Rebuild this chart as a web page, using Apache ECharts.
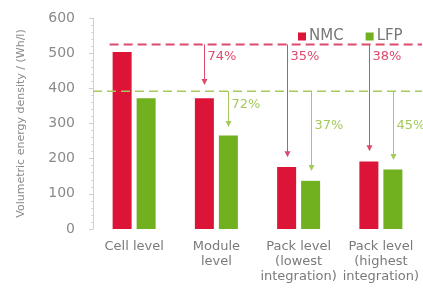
<!DOCTYPE html>
<html><head><meta charset="utf-8">
<script src="https://cdn.jsdelivr.net/npm/echarts@6/dist/echarts.min.js"></script>
<style>html,body{margin:0;padding:0;background:#fff}#c{width:423px;height:288px}</style>
</head><body><div id="c"></div>
<script>
const categories = ['Cell level', 'Module\nlevel', 'Pack level\n(lowest\nintegration)', 'Pack level\n(highest\nintegration)'];
const nmcValues = [503, 372, 176, 192];
const lfpValues = [372, 266, 137, 169];
const yTicks = [0, 100, 200, 300, 400, 500, 600];
const nmcRef = 525;
const lfpRef = 392;
// arrows: [categoryIndex, fromValue, toValue, labelValue]
const nmcArrows = [[1, 525, 412, 490], [2, 525, 207, 490], [3, 525, 224, 490]];
const nmcArrowLabels = ['74%', '35%', '38%'];
const lfpArrows = [[1, 392, 293, 355], [2, 392, 168, 293], [3, 392, 199, 293]];
const lfpArrowLabels = ['72%', '37%', '45%'];

const RED = '#dc1438', GREEN = '#71b01f';
const RED_L = '#dc4a6c', GREEN_L = '#a5c95a';
const BAR_W = 19, GAP = 5;
const FONT = 'DejaVu Sans';

function arrowRender(labels, color, side) {
  return function (params, api) {
    const cat = api.value(0), from = api.value(1), to = api.value(2), lv = api.value(3);
    const off = side * (BAR_W + GAP) / 2;
    const p1 = api.coord([cat, from]);
    const p2 = api.coord([cat, to]);
    const pl = api.coord([cat, lv]);
    const x = Math.round(p1[0] + off) + 0.5;
    return {
      type: 'group', children: [
        { type: 'line', shape: { x1: x, y1: p1[1], x2: x, y2: p2[1] - 3 }, style: { stroke: color, lineWidth: 1 } },
        { type: 'polygon', shape: { points: [[x - 3, p2[1] - 5], [x + 3, p2[1] - 5], [x, p2[1] + 1]] }, style: { fill: color } },
        { type: 'text', style: { text: labels[params.dataIndex], x: x + 3, y: pl[1], verticalAlign: 'middle', fill: color, fontSize: 13, fontFamily: FONT } }
      ]
    };
  };
}

const chart = echarts.init(document.getElementById('c'), null, { renderer: 'canvas' });
chart.setOption({
  animation: false,
  backgroundColor: '#fff',
  grid: { left: 93, right: 1, top: 18, bottom: 59 },
  legend: {
    data: ['NMC', 'LFP'], left: 293, top: 24, itemWidth: 8, itemHeight: 8, itemGap: 22, icon: 'rect',
    textStyle: { fontSize: 15, color: '#777', fontFamily: FONT, padding: [0, 0, 0, -2] }
  },
  xAxis: {
    type: 'category', data: categories,
    axisLine: { show: false }, axisTick: { show: false },
    axisLabel: { color: '#7a7a7a', fontSize: 13, fontFamily: FONT, lineHeight: 15, margin: 10, interval: 0 }
  },
  yAxis: {
    type: 'value', min: yTicks[0], max: yTicks[yTicks.length - 1], interval: 100,
    name: 'Volumetric energy density / (Wh/l)', nameLocation: 'middle', nameRotate: 90, nameGap: 66,
    nameTextStyle: { color: '#8a8a8a', fontSize: 11, fontFamily: FONT },
    axisLine: { show: true, lineStyle: { color: '#cfcfcf' } },
    axisTick: { show: true, length: 4, lineStyle: { color: '#cfcfcf' } },
    minorTick: { show: true, splitNumber: 5, length: 2, lineStyle: { color: '#d8d8d8' } },
    splitLine: { show: false },
    axisLabel: { color: '#8a8a8a', fontSize: 14, fontFamily: FONT, margin: 18 }
  },
  series: [
    { name: 'NMC', type: 'bar', data: nmcValues, barWidth: BAR_W, barGap: (GAP / BAR_W * 100) + '%', itemStyle: { color: RED }, z: 2 },
    { name: 'LFP', type: 'bar', data: lfpValues, barWidth: BAR_W, barGap: (GAP / BAR_W * 100) + '%', itemStyle: { color: GREEN }, z: 2 },
    {
      name: 'refs', type: 'custom', coordinateSystem: 'cartesian2d', clip: false, z: 3,
      data: [[0, nmcRef], [0, lfpRef]],
      encode: { x: 0, y: 1 },
      renderItem: function (params, api) {
        const v = api.value(1);
        const p = api.coord([0, v]);
        const cs = params.coordSys;
        const isRed = params.dataIndex === 0;
        const x1 = isRed ? p[0] - (BAR_W + GAP) / 2 - BAR_W / 2 - 3 : cs.x;
        return {
          type: 'line', shape: { x1: x1, y1: p[1], x2: cs.x + cs.width, y2: p[1] },
          style: { stroke: isRed ? RED_L : GREEN_L, lineWidth: isRed ? 2 : 1.5, lineDash: [9, 5] }
        };
      }
    },
    {
      name: 'nmcArrows', type: 'custom', coordinateSystem: 'cartesian2d', clip: false, z: 4,
      data: nmcArrows, encode: { x: 0, y: 1 },
      renderItem: arrowRender(nmcArrowLabels, RED_L, -1)
    },
    {
      name: 'lfpArrows', type: 'custom', coordinateSystem: 'cartesian2d', clip: false, z: 4,
      data: lfpArrows, encode: { x: 0, y: 1 },
      renderItem: arrowRender(lfpArrowLabels, GREEN_L, 1)
    }
  ]
});
</script></body></html>
